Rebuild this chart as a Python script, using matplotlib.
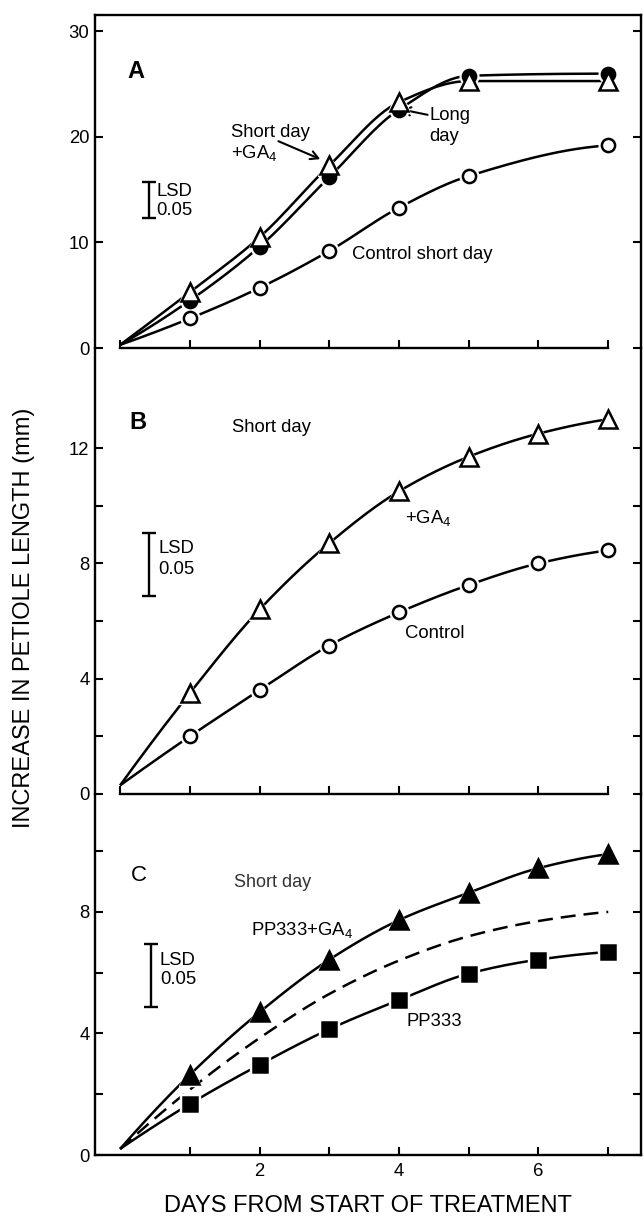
import numpy as np
import matplotlib
matplotlib.use("Agg")
import matplotlib.pyplot as plt

plt.rcParams['font.family'] = ['Liberation Sans', 'DejaVu Sans']
plt.rcParams['mathtext.default'] = 'regular'

# ---------------- data ----------------
start_day = 0
days_A = [1, 2, 3, 4, 5, 7]
A_start = 0.3
A_sd_ga4 = [5.3, 10.5, 17.3, 23.3, 25.3, 25.3]   # open triangles
A_long = [4.5, 9.6, 16.2, 22.6, 25.8, 26.0]      # filled circles
A_ctrl = [2.8, 5.7, 9.2, 13.3, 16.3, 19.2]       # open circles

days_B = [1, 2, 3, 4, 5, 6, 7]
B_start = 0.3
B_ga4 = [3.5, 6.4, 8.7, 10.5, 11.7, 12.5, 13.0]  # open triangles
B_ctrl = [2.0, 3.6, 5.15, 6.3, 7.25, 8.0, 8.45]  # open circles

days_C = [1, 2, 3, 4, 5, 6, 7]
C_start = 0.2
C_pp_ga4 = [2.64, 4.7, 6.43, 7.73, 8.63, 9.44, 9.9]  # filled triangles
C_pp = [1.68, 2.97, 4.14, 5.1, 5.97, 6.43, 6.68]     # filled squares
C_ref = [2.15, 3.85, 5.3, 6.4, 7.2, 7.7, 8.0]        # dashed curve

# LSD bars: (x, low, high)
LSD_A = (0.42, 12.3, 15.75)
LSD_B = (0.42, 6.87, 9.06)
LSD_C = (0.44, 4.87, 6.96)

yticks_A = [0, 10, 20, 30]
ylabels_A = ['0', '10', '20', '30']
yticks_B = [0, 2, 4, 6, 8, 10, 12]
ylabels_B = ['0', '', '4', '', '8', '', '12']
yticks_C = [0, 2, 4, 6, 8, 10]
ylabels_C = ['0', '', '4', '', '8', '']
xticks_AB = [0, 1, 2, 3, 4, 5, 6, 7]
xticks_C = [1, 2, 3, 4, 5, 6, 7]
xlabels_C = ['', '2', '', '4', '', '6', '']

XLABEL = 'DAYS FROM START OF TREATMENT'
YLABEL = 'INCREASE IN PETIOLE LENGTH (mm)'


# ---------- smooth drawing helper (monotone cubic through the data) ----------
def pchip_curve(x, y, n=200):
    x = np.asarray(x, float)
    y = np.asarray(y, float)
    h = np.diff(x)
    d = np.diff(y) / h
    m = np.zeros_like(y)
    for k in range(1, len(x) - 1):
        if d[k - 1] * d[k] <= 0:
            m[k] = 0.0
        else:
            w1 = 2 * h[k] + h[k - 1]
            w2 = h[k] + 2 * h[k - 1]
            m[k] = (w1 + w2) / (w1 / d[k - 1] + w2 / d[k])

    def endslope(h0, h1, d0, d1):
        s = ((2 * h0 + h1) * d0 - h0 * d1) / (h0 + h1)
        if np.sign(s) != np.sign(d0):
            s = 0.0
        elif np.sign(d0) != np.sign(d1) and abs(s) > abs(3 * d0):
            s = 3 * d0
        return s

    m[0] = endslope(h[0], h[1], d[0], d[1])
    m[-1] = endslope(h[-1], h[-2], d[-1], d[-2])
    xs = np.linspace(x[0], x[-1], n)
    idx = np.clip(np.searchsorted(x, xs) - 1, 0, len(x) - 2)
    t = (xs - x[idx]) / h[idx]
    h00 = 2 * t**3 - 3 * t**2 + 1
    h10 = t**3 - 2 * t**2 + t
    h01 = -2 * t**3 + 3 * t**2
    h11 = t**3 - t**2
    ys = h00 * y[idx] + h10 * h[idx] * m[idx] + h01 * y[idx + 1] + h11 * h[idx] * m[idx + 1]
    return xs, ys


LW = 1.8


def series(ax, days, start, vals, marker, ms, filled, ls='-', z=0):
    xs, ys = pchip_curve([start_day] + list(days), [start] + list(vals))
    if ls == '-':
        ax.plot(xs, ys, color='black', lw=LW, zorder=2 + z, solid_capstyle='butt')
    else:
        ax.plot(xs, ys, color='black', lw=LW, ls=ls, zorder=2 + z)
    if marker is None:
        return
    ax.plot(days, vals, ls='none', marker=marker, ms=ms + 4, color='white',
            mec='white', zorder=3 + z)
    ax.plot(days, vals, ls='none', marker=marker, ms=ms,
            mfc='black' if filled else 'white', mec='black', mew=1.8, zorder=4 + z)


def lsd(ax, bar, tx, ty1, ty2):
    x, lo, hi = bar
    ax.errorbar([x], [(lo + hi) / 2], yerr=[[(hi - lo) / 2], [(hi - lo) / 2]],
                fmt='none', ecolor='black', elinewidth=1.7, capsize=5, capthick=1.7)
    ax.text(tx, ty1, 'LSD', fontsize=13.3, va='center', ha='left')
    ax.text(tx, ty2, '0.05', fontsize=13.3, va='center', ha='left')


# ---------------- figure ----------------
W, H = 644, 1223
fig = plt.figure(figsize=(W / 100, H / 100), dpi=100)
L, R = 95, 641


def rect(top, bottom):
    return [L / W, 1 - bottom / H, (R - L) / W, (bottom - top) / H]


axA = fig.add_axes(rect(15, 348))
axB = fig.add_axes(rect(348, 794))
axC = fig.add_axes(rect(794, 1155))

XLIM = (-0.36, 7.47)
for ax in (axA, axB, axC):
    ax.set_xlim(*XLIM)
    ax.patch.set_alpha(0)
    for s in ax.spines.values():
        s.set_linewidth(1.7)
    ax.tick_params(axis='y', which='both', direction='in', left=True, right=True,
                   length=6, width=1.5, pad=4, labelsize=13.3)
    ax.tick_params(axis='x', which='both', direction='in', top=False, bottom=True,
                   length=6, width=1.5, pad=6, labelsize=13.3)

axA.set_ylim(0, 31.56)
axB.set_ylim(0, 15.47)
axC.set_ylim(0, 11.88)

axA.set_yticks(yticks_A, ylabels_A)
axB.set_yticks(yticks_B, ylabels_B)
axC.set_yticks(yticks_C, ylabels_C)

for ax in (axA, axB):
    ax.set_xticks(xticks_AB, [''] * len(xticks_AB))
    ax.spines['bottom'].set_bounds(0, 7)
axC.set_xticks(xticks_C, xlabels_C)

axB.spines['top'].set_visible(False)
axC.spines['top'].set_visible(False)

# ---- Panel A ----
series(axA, days_A, A_start, A_ctrl, 'o', 9.5, False)
series(axA, days_A, A_start, A_long, 'o', 9.5, True, z=0.2)
series(axA, days_A, A_start, A_sd_ga4, '^', 12.5, False, z=0.4)
lsd(axA, LSD_A, 0.52, 14.8, 13.0)
axA.text(0.1, 26.2, 'A', fontsize=17, fontweight='bold', va='center', ha='left')
axA.text(1.59, 20.4, 'Short day', fontsize=13.3, va='center', ha='left')
axA.text(1.59, 18.5, '+GA$_4$', fontsize=13.3, va='center', ha='left')
axA.annotate('', xy=(2.87, 17.9), xytext=(2.27, 19.6),
             arrowprops=dict(arrowstyle='->,head_length=0.55,head_width=0.3',
                             color='black', lw=1.5, shrinkA=0, shrinkB=0))
axA.text(4.43, 22.0, 'Long', fontsize=13.3, va='center', ha='left')
axA.text(4.43, 20.0, 'day', fontsize=13.3, va='center', ha='left')
axA.annotate('', xy=(4.04, 22.6), xytext=(4.41, 22.1),
             arrowprops=dict(arrowstyle='->,head_length=0.5,head_width=0.3',
                             color='black', lw=1.5, shrinkA=0, shrinkB=0))
axA.text(3.33, 8.9, 'Control short day', fontsize=13.3, va='center', ha='left')

# ---- Panel B ----
series(axB, days_B, B_start, B_ctrl, 'o', 9.5, False)
series(axB, days_B, B_start, B_ga4, '^', 12.5, False, z=0.4)
lsd(axB, LSD_B, 0.55, 8.5, 7.77)
axB.text(0.14, 12.9, 'B', fontsize=17, fontweight='bold', va='center', ha='left')
axB.text(1.6, 12.7, 'Short day', fontsize=13.3, va='center', ha='left')
axB.text(4.08, 9.56, '+GA$_4$', fontsize=13.3, va='center', ha='left')
axB.text(4.08, 5.57, 'Control', fontsize=13.3, va='center', ha='left')

# ---- Panel C ----
series(axC, days_C, C_start, C_ref, None, 0, False, ls=(0, (6, 3.2)))
series(axC, days_C, C_start, C_pp, 's', 10.5, True, z=0.2)
series(axC, days_C, C_start, C_pp_ga4, '^', 12.5, True, z=0.4)
lsd(axC, LSD_C, 0.57, 6.41, 5.76)
axC.text(0.16, 9.2, 'C', fontsize=16, va='center', ha='left')
axC.text(1.64, 8.96, 'Short day', fontsize=13, va='center', ha='left', color='#333333')
axC.text(1.87, 7.4, 'PP333+GA$_4$', fontsize=13.3, va='center', ha='left')
axC.text(4.11, 4.39, 'PP333', fontsize=13.3, va='center', ha='left')

# ---- axis titles ----
fig.text((L + R) / 2 / W, 1 - 1206 / H, XLABEL, fontsize=17, ha='center', va='center')
fig.text(24 / W, 1 - 618 / H, YLABEL, fontsize=17, ha='center', va='center',
         rotation=90)

fig.savefig('out.png', dpi=100)
